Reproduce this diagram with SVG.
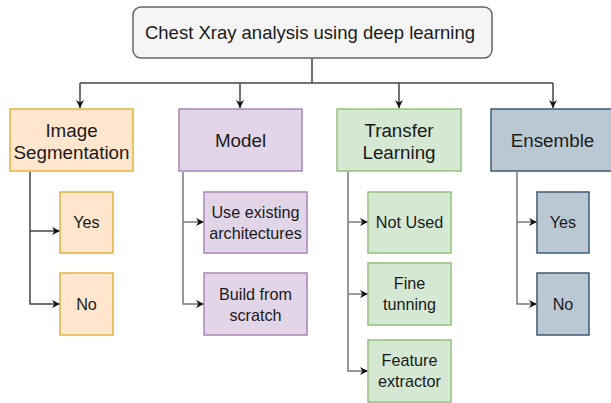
<svg xmlns="http://www.w3.org/2000/svg" width="611" height="403" viewBox="0 0 611 403">
<style>
text{font-family:"Liberation Sans",Arial,sans-serif;fill:#1a1a1a;text-anchor:middle}
.t0{font-size:18.5px}
.t1{font-size:18.8px}
.t2{font-size:16.2px}
.c{fill:none;stroke:#444;stroke-width:1.5}
.or{fill:#ffe6cc;stroke:#e3b341;stroke-width:1.5}
.pu{fill:#e1d5e7;stroke:#a987b8;stroke-width:1.5}
.gr{fill:#d5e8d4;stroke:#92c07a;stroke-width:1.5}
.bl{fill:#bac8d3;stroke:#3d5a73;stroke-width:1.5}
</style>
<defs>
<marker id="ah" viewBox="0 0 10 10" refX="10" refY="5" markerWidth="8" markerHeight="8" markerUnits="userSpaceOnUse" orient="auto">
<path d="M0,0 L10,5 L0,10 L3,5 Z" fill="#111"/>
</marker>
</defs>
<g id="connectors">
<path class="c" d="M312,58 V83"/>
<path class="c" d="M80,83 H553"/>
<path class="c" d="M80,83 V108" marker-end="url(#ah)"/>
<path class="c" d="M240,83 V108" marker-end="url(#ah)"/>
<path class="c" d="M399,83 V108" marker-end="url(#ah)"/>
<path class="c" d="M553,83 V108" marker-end="url(#ah)"/>
<path class="c" d="M30,172 V231 H60" marker-end="url(#ah)"/>
<path class="c" d="M30,231 V304 H60" marker-end="url(#ah)"/>
<path class="c" style="stroke:#777" d="M183,172 V304 H204" marker-end="url(#ah)"/>
<path class="c" style="stroke:#777" d="M183,222 H204" marker-end="url(#ah)"/>
<path class="c" style="stroke:#777" d="M348,172 V371 H368" marker-end="url(#ah)"/>
<path class="c" style="stroke:#777" d="M348,222 H368" marker-end="url(#ah)"/>
<path class="c" style="stroke:#777" d="M348,294 H368" marker-end="url(#ah)"/>
<path class="c" style="stroke:#777" d="M517,172 V304 H537" marker-end="url(#ah)"/>
<path class="c" style="stroke:#777" d="M517,222 H537" marker-end="url(#ah)"/>
</g>
<g id="root">
<rect x="133" y="7" width="359" height="51" rx="8" fill="#f5f5f5" stroke="#666" stroke-width="1.5"/>
<text class="t0" x="310" y="39">Chest Xray analysis using deep learning</text>
</g>
<g id="imgseg">
<rect class="or" x="10" y="109" width="123" height="62"/>
<text class="t1" x="71.5" y="137">Image</text>
<text class="t1" x="71.5" y="159">Segmentation</text>
</g>
<g id="model">
<rect class="pu" x="179" y="109" width="123" height="62"/>
<text class="t1" x="240.5" y="147">Model</text>
</g>
<g id="transfer">
<rect class="gr" x="337" y="109" width="124" height="62"/>
<text class="t1" x="399" y="137">Transfer</text>
<text class="t1" x="399" y="159">Learning</text>
</g>
<g id="ensemble">
<rect class="bl" x="491" y="109" width="123" height="62"/>
<text class="t1" x="552.5" y="147">Ensemble</text>
</g>
<g id="is-yes">
<rect class="or" x="60" y="192" width="53" height="61"/>
<text class="t2" x="86.5" y="228">Yes</text>
</g>
<g id="is-no">
<rect class="or" x="60" y="273" width="53" height="62"/>
<text class="t2" x="86.5" y="310">No</text>
</g>
<g id="m-use">
<rect class="pu" x="204" y="192" width="103" height="61"/>
<text class="t2" x="255.5" y="218">Use existing</text>
<text class="t2" x="255.5" y="239">architectures</text>
</g>
<g id="m-build">
<rect class="pu" x="204" y="273" width="103" height="62"/>
<text class="t2" x="255.5" y="300">Build from</text>
<text class="t2" x="255.5" y="321">scratch</text>
</g>
<g id="t-not">
<rect class="gr" x="368" y="192" width="83" height="61"/>
<text class="t2" x="409.5" y="228">Not Used</text>
</g>
<g id="t-fine">
<rect class="gr" x="368" y="263" width="83" height="62"/>
<text class="t2" x="409.5" y="289">Fine</text>
<text class="t2" x="409.5" y="310">tunning</text>
</g>
<g id="t-feat">
<rect class="gr" x="368" y="340" width="83" height="62"/>
<text class="t2" x="409.5" y="366">Feature</text>
<text class="t2" x="409.5" y="387">extractor</text>
</g>
<g id="e-yes">
<rect class="bl" x="537" y="192" width="52" height="61"/>
<text class="t2" x="563" y="228">Yes</text>
</g>
<g id="e-no">
<rect class="bl" x="537" y="273" width="52" height="62"/>
<text class="t2" x="563" y="310">No</text>
</g>
</svg>
